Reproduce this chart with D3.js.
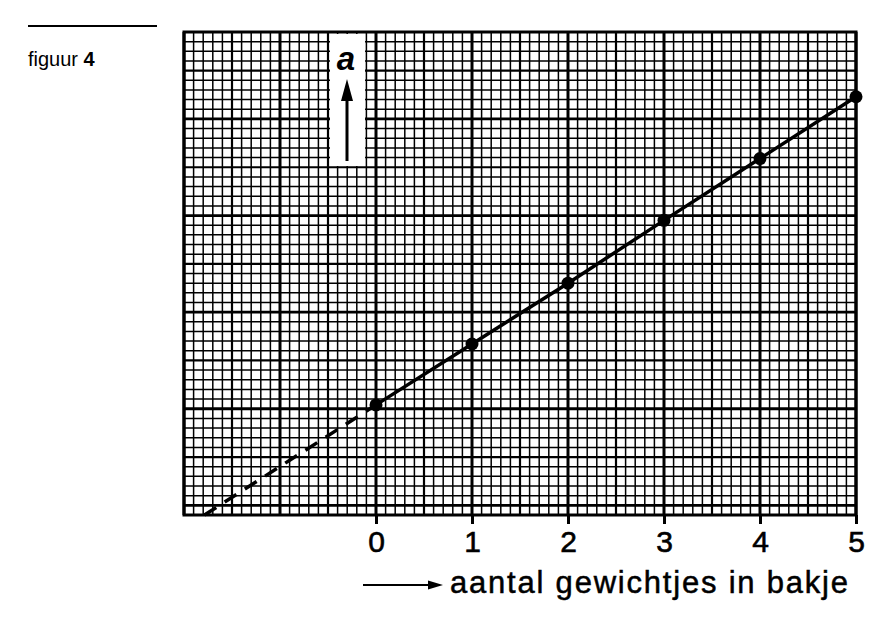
<!DOCTYPE html>
<html>
<head>
<meta charset="utf-8">
<script src="https://cdn.jsdelivr.net/npm/d3@7"></script>
<style>
  body { margin: 0; background: #fff; }
  svg { display: block; }
</style>
</head>
<body>
<script>
var W = 893, H = 624;

// data
var gewichtjes = [0, 1, 2, 3, 4, 5];
var a = [10.4, 16.7, 23.0, 29.5, 35.9, 42.3];  // in grid squares, no y labels
var xTicks = [0, 1, 2, 3, 4, 5];

var svg = d3.select("body").append("svg")
    .attr("width", W)
    .attr("height", H);

var x = d3.scaleLinear().domain([-2, 5]).range([184, 856]);
var y = d3.scaleLinear().domain([-1, 49]).range([515, 32]);

// graph paper
var grid = svg.append("g");
var xs = d3.range(-20, 51).map(function(i) { return i / 10; });
var ys = d3.range(-1, 50);

grid.selectAll("line.v")
    .data(xs)
    .enter().append("line")
    .attr("x1", function(d) { return x(d); })
    .attr("x2", function(d) { return x(d); })
    .attr("y1", y(-1))
    .attr("y2", y(49))
    .attr("stroke", "#000")
    .attr("stroke-width", function(d) {
      var k = Math.round(d * 10);
      if (k % 10 == 0) return 3;
      if (k % 5 == 0) return 2.2;
      return 1.5;
    });

grid.selectAll("line.h")
    .data(ys)
    .enter().append("line")
    .attr("x1", x(-2))
    .attr("x2", x(5))
    .attr("y1", function(d) { return y(d); })
    .attr("y2", function(d) { return y(d); })
    .attr("stroke", "#000")
    .attr("stroke-width", function(d) {
      if (d % 10 == 0) return 2.8;
      if (d % 5 == 0) return 2.2;
      return 1.5;
    });

// frame
svg.append("rect")
    .attr("x", x(-2))
    .attr("y", y(49))
    .attr("width", x(5) - x(-2))
    .attr("height", y(-1) - y(49))
    .attr("fill", "none")
    .attr("stroke", "#000")
    .attr("stroke-width", 3);

// label box with "a" and arrow
svg.append("rect")
    .attr("x", 330).attr("y", y(49) + 2)
    .attr("width", 35).attr("height", 132)
    .attr("fill", "#fff");
svg.append("text")
    .attr("x", 346).attr("y", 70)
    .attr("text-anchor", "middle")
    .attr("font-family", "Liberation Sans, Arial, sans-serif")
    .attr("font-size", 33)
    .attr("font-style", "italic")
    .attr("font-weight", "bold")
    .text("a");
svg.append("line")
    .attr("x1", 347).attr("x2", 347)
    .attr("y1", 161).attr("y2", 96)
    .attr("stroke", "#000").attr("stroke-width", 3);
svg.append("path")
    .attr("d", "M347,79 L353,101 L341,101 Z")
    .attr("fill", "#000");

// fitted line: solid through the points, dashed back to the bottom edge
var slope = (a[a.length - 1] - a[0]) / (gewichtjes[gewichtjes.length - 1] - gewichtjes[0]);
var x0 = gewichtjes[0] + (y.domain()[0] - a[0]) / slope;

svg.append("line")
    .attr("x1", x(x0)).attr("y1", y(y.domain()[0]))
    .attr("x2", x(gewichtjes[0])).attr("y2", y(a[0]))
    .attr("stroke", "#000")
    .attr("stroke-width", 3.5)
    .attr("stroke-dasharray", "14,10");

var line = d3.line()
    .x(function(d, i) { return x(gewichtjes[i]); })
    .y(function(d) { return y(d); });

svg.append("path")
    .datum(a)
    .attr("d", line)
    .attr("fill", "none")
    .attr("stroke", "#000")
    .attr("stroke-width", 3.5);

svg.selectAll("circle")
    .data(a)
    .enter().append("circle")
    .attr("cx", function(d, i) { return x(gewichtjes[i]); })
    .attr("cy", function(d) { return y(d); })
    .attr("r", 6.5)
    .attr("fill", "#000");

// x axis ticks and labels
var xAxis = svg.append("g")
    .attr("transform", "translate(0," + y(-1) + ")")
    .call(d3.axisBottom(x).tickValues(xTicks).tickFormat(d3.format("d"))
      .tickSize(9).tickSizeOuter(0));
xAxis.select(".domain").remove();
xAxis.selectAll(".tick line")
    .attr("stroke", "#000")
    .attr("stroke-width", 3);
xAxis.selectAll(".tick text")
    .attr("y", 37)
    .attr("dy", 0)
    .attr("fill", "#000")
    .attr("stroke", "#000")
    .attr("stroke-width", 0.6)
    .attr("font-family", "Liberation Sans, Arial, sans-serif")
    .attr("font-size", 30);

// axis title with arrow
svg.append("line")
    .attr("x1", 363).attr("x2", 430)
    .attr("y1", 585).attr("y2", 585)
    .attr("stroke", "#000").attr("stroke-width", 2);
svg.append("path")
    .attr("d", "M443,585 L428,580.5 L428,589.5 Z")
    .attr("fill", "#000");
svg.append("text")
    .attr("x", 450).attr("y", 593)
    .attr("font-family", "Liberation Sans, Arial, sans-serif")
    .attr("font-size", 31)
    .attr("stroke", "#000")
    .attr("stroke-width", 0.5)
    .attr("textLength", 398)
    .attr("lengthAdjust", "spacing")
    .text("aantal gewichtjes in bakje");

// figure caption
svg.append("line")
    .attr("x1", 28).attr("x2", 157)
    .attr("y1", 26).attr("y2", 26)
    .attr("stroke", "#000").attr("stroke-width", 2);
var cap = svg.append("text")
    .attr("x", 28).attr("y", 66)
    .attr("font-family", "Liberation Sans, Arial, sans-serif")
    .attr("font-size", 20);
cap.append("tspan").text("figuur ");
cap.append("tspan").attr("font-weight", "bold").text("4");
</script>
</body>
</html>
